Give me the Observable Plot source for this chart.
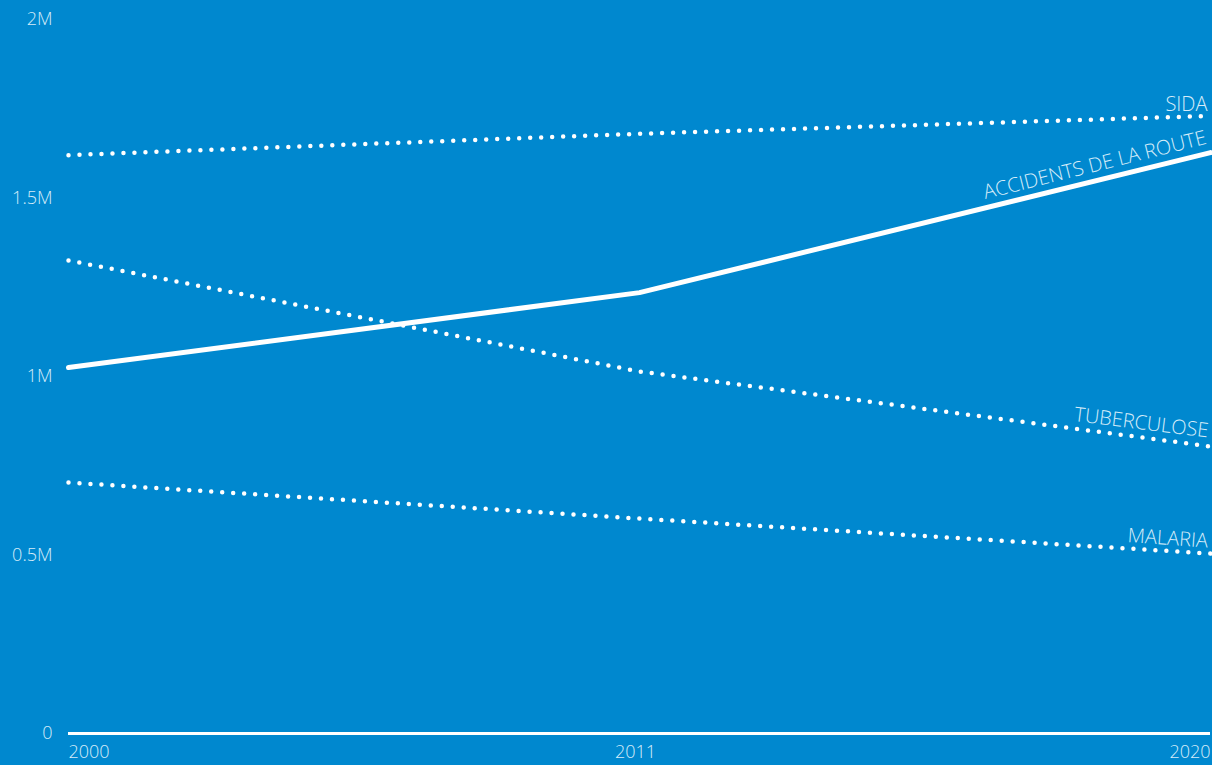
<!DOCTYPE html>
<html>
<head>
<meta charset="utf-8">
<script src="https://cdn.jsdelivr.net/npm/d3@7"></script>
<script src="https://cdn.jsdelivr.net/npm/@observablehq/plot@0.6"></script>
<style>
  html, body { margin: 0; padding: 0; background: #0088cf; overflow: hidden; }
  #chart svg { display: block; }
</style>
</head>
<body>
<div id="chart"></div>
<script>
// Data
const years = ["2000", "2011", "2020"];
const seriesNames = ["SIDA", "ACCIDENTS DE LA ROUTE", "TUBERCULOSE", "MALARIA"];
const sida = [1620000, 1680000, 1730000];
const accidents = [1025000, 1235000, 1627000];
const tuberculose = [1325000, 1014000, 804000];
const malaria = [703000, 602000, 504000];
const yTicks = [0, 500000, 1000000, 1500000, 2000000];

// Style config (not data)
const solidSeries = ["ACCIDENTS DE LA ROUTE"];
const labelStyle = {
  "SIDA": {rotate: 0, dy: -5},
  "ACCIDENTS DE LA ROUTE": {rotate: -14, dy: -9},
  "TUBERCULOSE": {rotate: 7, dy: -9},
  "MALARIA": {rotate: 4, dy: -6}
};

const valuesBySeries = [sida, accidents, tuberculose, malaria];
const rows = [];
seriesNames.forEach((name, i) => {
  years.forEach((yr, j) => rows.push({series: name, year: yr, value: valuesBySeries[i][j]}));
});
const lastRows = rows.filter(d => d.year === years[years.length - 1]);

const textColor = "#d6ecf9";
const fmt = d => d === 0 ? "0" : (d / 1e6) + "M";

const labelMarks = seriesNames.map(name => Plot.text(lastRows.filter(d => d.series === name), {
  x: "year", y: "value", text: "series",
  rotate: labelStyle[name].rotate,
  textAnchor: "end", lineAnchor: "bottom",
  dx: -3, dy: labelStyle[name].dy,
  fill: textColor, fontSize: 20, fontWeight: 300,
  style: "letter-spacing: 1.3px"
}));

const chart = Plot.plot({
  width: 1212,
  height: 765,
  marginLeft: 68,
  marginRight: 2,
  marginTop: 19,
  marginBottom: 32,
  style: {
    background: "#0088cf",
    color: textColor,
    fontFamily: "'Open Sans', 'DejaVu Sans', sans-serif",
    fontWeight: 300,
    fontSize: "18px",
    overflow: "visible"
  },
  x: {type: "point", domain: years, padding: 0, label: null},
  y: {domain: [0, 2000000], label: null},
  marks: [
    Plot.axisY(yTicks, {tickSize: 0, tickPadding: 16, tickFormat: fmt, fill: textColor, fontSize: 18, label: null}),
    Plot.axisX([years[0]], {tickSize: 0, tickPadding: 12, textAnchor: "start", fill: textColor, fontSize: 18, label: null}),
    Plot.axisX([years[1]], {tickSize: 0, tickPadding: 12, dx: -4, fill: textColor, fontSize: 18, label: null}),
    Plot.axisX([years[2]], {tickSize: 0, tickPadding: 12, textAnchor: "end", fill: textColor, fontSize: 18, label: null}),
    Plot.ruleY([0], {stroke: "white", strokeWidth: 3}),
    Plot.line(rows.filter(d => !solidSeries.includes(d.series)), {
      x: "year", y: "value", z: "series",
      stroke: "white", strokeWidth: 4.5, strokeLinecap: "round", strokeDasharray: "0 11"
    }),
    Plot.line(rows.filter(d => solidSeries.includes(d.series)), {
      x: "year", y: "value", z: "series",
      stroke: "white", strokeWidth: 5, strokeLinecap: "round"
    }),
    ...labelMarks
  ]
});

document.getElementById("chart").appendChild(chart);
</script>
</body>
</html>
